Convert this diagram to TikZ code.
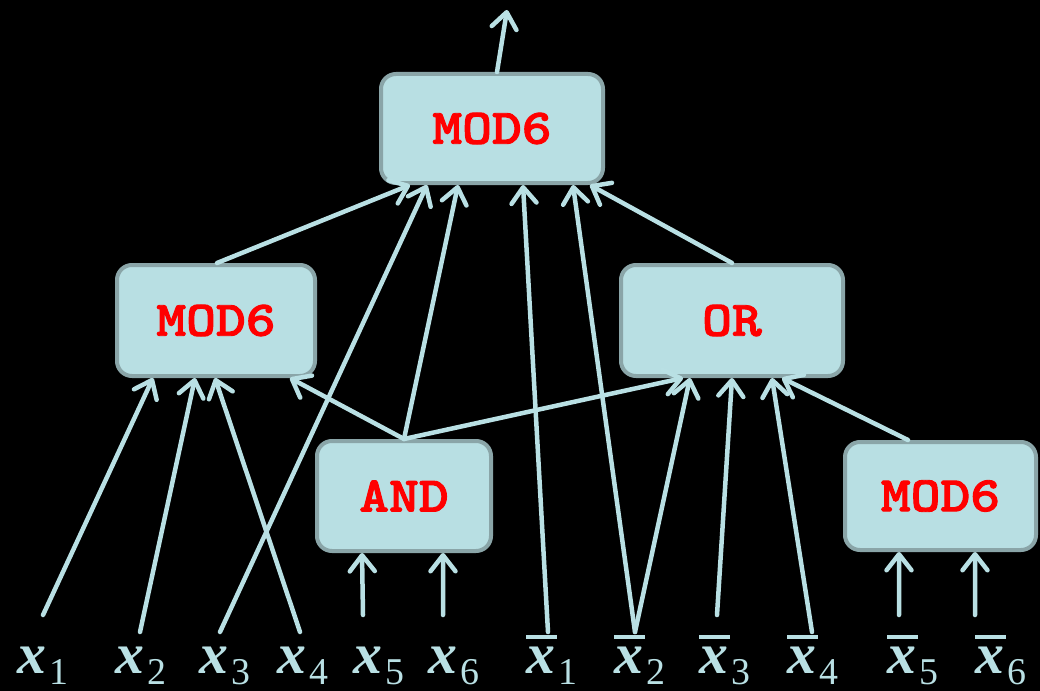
\documentclass[tikz,border=0pt]{standalone}
\usepackage{fontspec}
\usetikzlibrary{arrows.meta,calc}
\newfontfamily\labfont{Liberation Serif}
\definecolor{wire}{RGB}{185,224,228}
\definecolor{boxfill}{RGB}{184,223,227}
\definecolor{boxedge}{RGB}{138,165,168}
\definecolor{gatered}{RGB}{255,0,0}
% variable labels x_i and negated variables
\newcommand\varlab[1]{{\labfont\fontsize{58}{58}\selectfont\bfseries\itshape x}\kern3bp\raisebox{-11bp}{\labfont\fontsize{38}{38}\selectfont #1}}
\newcommand\barlab[1]{\rlap{\rule[34bp]{31bp}{4bp}}\varlab{#1}}
% fill and stroke the glyph outlines for heavier strokes
\newcommand\heavy[1]{\special{pdf:literal direct 2 Tr 0.9 w}#1\special{pdf:literal direct 0 Tr}}
% gate captions in a heavy slab-serif typewriter face, slightly widened
\newcommand\gatetext[1]{\scalebox{1.14}[1]{\ttfamily\bfseries\fontsize{50}{50}\selectfont\heavy{#1}}}
\tikzset{
  gate/.style={draw=boxedge, fill=boxfill, line width=4bp, rounded corners=15bp,
    inner sep=0pt, text=gatered},
  wirearrow/.style={draw=wire, line width=4.5bp, line cap=round,
    -{Straight Barb[length=16bp,width=25bp,round]}},
  lab/.style={inner sep=0pt, anchor=base west, text=wire},
}
\begin{document}
\begin{tikzpicture}[x=1bp,y=-1bp]
\fill[black] (0,0) rectangle (1040,691);
\useasboundingbox (0,0) rectangle (1040,691);

% gates
\node[gate, minimum width=222bp, minimum height=109bp] (top) at (492,128.5) {\gatetext{MOD6}};
\node[gate, minimum width=198bp, minimum height=111bp] (lm) at (216,320.5) {\gatetext{MOD6}};
\node[gate, minimum width=222bp, minimum height=111bp] (or) at (732,320.5) {\gatetext{OR}};
\node[gate, minimum width=174bp, minimum height=110bp] (and) at (404,496) {\gatetext{AND}};
\node[gate, minimum width=191bp, minimum height=108bp] (rm) at (940.5,496) {\gatetext{MOD6}};

% input labels
\node[lab] (l1) at (17,673) {\varlab{1}};
\node[lab] (l2) at (115,673) {\varlab{2}};
\node[lab] (l3) at (199,673) {\varlab{3}};
\node[lab] (l4) at (277,673) {\varlab{4}};
\node[lab] (l5) at (353,673) {\varlab{5}};
\node[lab] (l6) at (428,673) {\varlab{6}};
\node[lab] (n1) at (526,673) {\barlab{1}};
\node[lab] (n2) at (614,673) {\barlab{2}};
\node[lab] (n3) at (699,673) {\barlab{3}};
\node[lab] (n4) at (787,673) {\barlab{4}};
\node[lab] (n5) at (887,673) {\barlab{5}};
\node[lab] (n6) at (975,673) {\barlab{6}};

% wire ends just above the labels
\coordinate (a1) at (43,615);
\coordinate (a2) at (140,632);
\coordinate (a3) at (220,632);
\coordinate (a4) at (300,632);
\coordinate (a5) at (363,615);
\coordinate (a6) at (443,615);
\coordinate (b1) at (548,632);
\coordinate (b2) at (635,632);
\coordinate (b3) at (717,615);
\coordinate (b4) at (812,632);
\coordinate (b5) at (899,615);
\coordinate (b6) at (975,615);
\coordinate (out) at (507,10);

% output
\draw[wirearrow] ([xshift=5bp]top.north) -- (out);
% into the top MOD6
\draw[wirearrow] ([xshift=1bp]lm.north) -- ([xshift=-82bp]top.south);
\draw[wirearrow] (a3) -- ([xshift=-65bp]top.south);
\draw[wirearrow] (and.north) -- ([xshift=-34bp]top.south);
\draw[wirearrow] (b1) -- ([xshift=31bp]top.south);
\draw[wirearrow] (b2) -- ([xshift=81bp]top.south);
\draw[wirearrow] (or.north) -- ([xshift=98bp]top.south);
% into the left MOD6
\draw[wirearrow] (a1) -- ([xshift=-63bp]lm.south);
\draw[wirearrow] (a2) -- ([xshift=-21bp]lm.south);
\draw[wirearrow] (a4) -- ([xshift=-1bp]lm.south);
\draw[wirearrow] (and.north) -- ([xshift=74bp]lm.south);
% into OR
\draw[wirearrow] (and.north) -- ([xshift=-49bp]or.south);
\draw[wirearrow] (b2) -- ([xshift=-42bp]or.south);
\draw[wirearrow] (b3) -- (or.south);
\draw[wirearrow] (b4) -- ([xshift=40bp]or.south);
\draw[wirearrow] ([xshift=-32.5bp]rm.north) -- ([xshift=50bp]or.south);
% into AND
\draw[wirearrow] (a5) -- ([xshift=-42bp]and.south);
\draw[wirearrow] (a6) -- ([xshift=39bp]and.south);
% into the right MOD6
\draw[wirearrow] (b5) -- ([xshift=-41.5bp]rm.south);
\draw[wirearrow] (b6) -- ([xshift=34.5bp]rm.south);
\end{tikzpicture}
\end{document}
